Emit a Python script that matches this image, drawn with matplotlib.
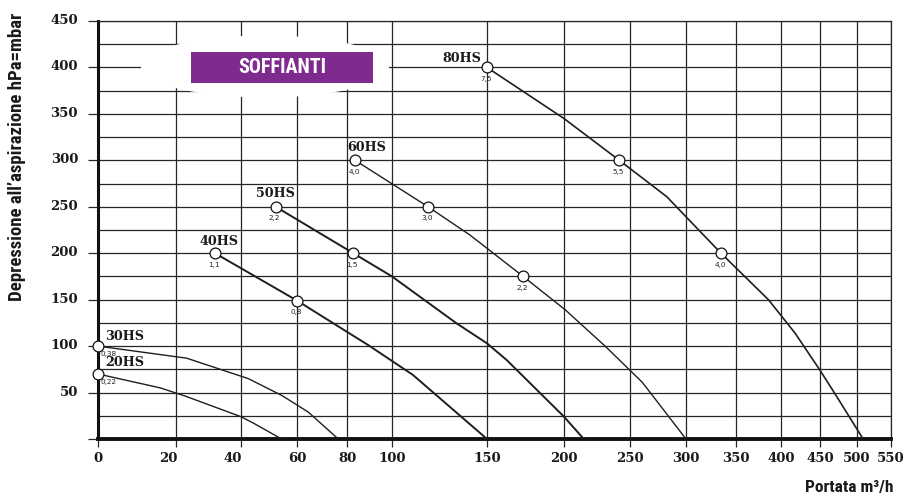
import numpy as np
import matplotlib
matplotlib.use("Agg")
import matplotlib.pyplot as plt
from matplotlib import font_manager
from matplotlib.patches import Ellipse, Rectangle
from matplotlib.transforms import ScaledTranslation

# ---------------- data ----------------
x_ticks = [0, 20, 40, 60, 80, 100, 150, 200, 250, 300, 350, 400, 450, 500, 550]
y_ticks = [0, 50, 100, 150, 200, 250, 300, 350, 400, 450]

names = ["20HS", "30HS", "40HS", "50HS", "60HS", "80HS"]

x_20 = [0, 16, 23, 40, 44.5, 54.5]
y_20 = [70, 55, 46, 24, 17, 0]
x_30 = [0, 23.3, 42.6, 54.5, 64.5, 76.5]
y_30 = [100, 87, 65, 47, 29, 0]
x_40 = [32, 60, 89.5, 111, 150]
y_40 = [200, 149, 101, 69, 0]
x_50 = [52.4, 82.8, 100, 134, 150, 162.8, 200, 215]
y_50 = [250, 200, 175, 124.5, 103, 85, 24, 0]
x_60 = [83.6, 119, 141, 173.5, 201, 231.6, 261, 300]
y_60 = [300, 250, 219.6, 175, 139, 99.4, 61, 0]
x_80 = [150, 200, 241.9, 282.7, 335, 386, 418, 450, 470, 509]
y_80 = [400, 345, 300, 261, 200, 150, 114, 74, 49, 0]

# marker indices and power labels (kW)
mk_20 = [0]; pw_20 = ["0,22"]
mk_30 = [0]; pw_30 = ["0,38"]
mk_40 = [0, 1]; pw_40 = ["1,1", "0,8"]
mk_50 = [0, 1]; pw_50 = ["2,2", "1,5"]
mk_60 = [0, 1, 3]; pw_60 = ["4,0", "3,0", "2,2"]
mk_80 = [0, 2, 4]; pw_80 = ["7,5", "5,5", "4,0"]

title_box = "SOFFIANTI"
y_label = "Depressione all\u2019aspirazione hPa=mbar"
x_label = "Portata m\u00b3/h"

# ---------------- fonts ----------------
avail = {f.name for f in font_manager.fontManager.ttflist}
cond = "Liberation Sans Narrow" if "Liberation Sans Narrow" in avail else (
    "Roboto Condensed" if "Roboto Condensed" in avail else "Roboto")
serif = "DejaVu Serif"

# ---------------- layout ----------------
W, H = 905, 494
fig = plt.figure(figsize=(W / 100, H / 100), dpi=100)
L, R, T, B = 98, 891, 21, 439
ax = fig.add_axes([L / W, 1 - B / H, (R - L) / W, (B - T) / H])

# non-linear x scale: grid values at fixed pixel positions of the chart
grid_px = np.array([0, 78, 143, 199, 249, 294, 389, 466, 532, 588, 638, 683, 722, 759, 793], float)
grid_val = np.array(x_ticks, float)

def fwd(v):
    return np.interp(v, grid_val, grid_px)

def inv(p):
    return np.interp(p, grid_px, grid_val)

ax.set_xscale("function", functions=(fwd, inv))
ax.set_xlim(0, 550)
ax.set_ylim(0, 450)

gcol = "#262626"
ax.set_axisbelow(True)
ax.set_xticks(x_ticks)
ax.set_xticklabels([str(v) for v in x_ticks])
ax.set_yticks(y_ticks)
ax.set_yticklabels([""] + [str(v) for v in y_ticks[1:]])
ax.set_yticks([v + 25 for v in y_ticks[:-1]], minor=True)
ax.xaxis.set_minor_locator(matplotlib.ticker.NullLocator())
ax.grid(True, which="both", color=gcol, lw=0.9)
ax.tick_params(axis="x", which="major", direction="out", length=6, width=0.9,
               color=gcol, pad=3.5, labelsize=9.5)
ax.tick_params(axis="y", which="major", direction="out", length=7.2, width=0.9,
               color=gcol, pad=7.2, labelsize=9.5)
ax.tick_params(axis="y", which="minor", length=0)
for lab in ax.get_xticklabels() + ax.get_yticklabels():
    lab.set_fontfamily(serif)
    lab.set_fontweight("bold")
    lab.set_color("#1a1a1a")
# small left shift of the 20 / 40 labels as in the original
for lab in ax.get_xticklabels():
    if lab.get_text() in ("20", "40"):
        lab.set_transform(lab.get_transform() + ScaledTranslation(-8 / 100, 0, fig.dpi_scale_trans))
for lab in ax.get_yticklabels():
    lab.set_transform(lab.get_transform() + ScaledTranslation(0, 2 / 100, fig.dpi_scale_trans))

for s in ("top", "right"):
    ax.spines[s].set_linewidth(0.9)
    ax.spines[s].set_color(gcol)
ax.spines["left"].set_linewidth(2.2)
ax.spines["left"].set_color("#111111")
ax.spines["bottom"].set_linewidth(2.8)
ax.spines["bottom"].set_color("#111111")

# white glow and title box
ell = Ellipse((265 / W, 1 - 66.5 / H), 248 / W, 62 / H, transform=fig.transFigure,
              facecolor="white", edgecolor="none", zorder=1, clip_on=False)
ax.add_patch(ell)
rect = Rectangle((191 / W, 1 - 83 / H), 182 / W, 31 / H, transform=fig.transFigure,
                 facecolor="#7f2a8e", edgecolor="none", zorder=1.2, clip_on=False)
ax.add_patch(rect)
ax.text(282 / W, 1 - 67.5 / H, title_box, transform=fig.transFigure, ha="center", va="center",
        color="white", fontsize=14.5, fontweight="bold", family=cond, zorder=1.4)

series = [
    (x_20, y_20, mk_20, pw_20, 1.0, (27, 11), "left"),
    (x_30, y_30, mk_30, pw_30, 1.0, (27, 10), "left"),
    (x_40, y_40, mk_40, pw_40, 1.4, (4, 12), "center"),
    (x_50, y_50, mk_50, pw_50, 1.4, (0, 13), "center"),
    (x_60, y_60, mk_60, pw_60, 1.0, (12, 13), "center"),
    (x_80, y_80, mk_80, pw_80, 1.2, (-25, 9), "center"),
]

for name, (xs, ys, mk, pw, lw, loff, pwalign) in zip(names, series):
    ax.plot(xs, ys, color="#1e1e1e", lw=lw, zorder=3, solid_joinstyle="miter")
    mx = [xs[i] for i in mk]
    my = [ys[i] for i in mk]
    ax.plot(mx, my, "o", ms=7.8, mfc="white", mec="#111111", mew=0.9, zorder=4, clip_on=False)
    for xv, yv, t in zip(mx, my, pw):
        if pwalign == "left":
            ax.annotate(t, (xv, yv), xytext=(2, -8), textcoords="offset pixels",
                        ha="left", va="center", fontsize=5.2, color="#222222", zorder=5)
        else:
            ax.annotate(t, (xv, yv), xytext=(-1, -11.5), textcoords="offset pixels",
                        ha="center", va="center", fontsize=5.2, color="#222222", zorder=5)
    ax.annotate(name, (xs[0], ys[0]), xytext=(loff[0], loff[1]), textcoords="offset pixels",
                ha="center", va="center", fontsize=9.2, fontweight="bold", family=serif,
                color="#1a1a1a", zorder=5)

fig.text(17.5 / W, 1 - 157 / H, y_label, rotation=90, ha="center", va="center",
         fontsize=13.5, fontweight="bold", family=cond, color="#1a1a1a")
fig.text(893 / W, 1 - 487 / H, x_label, ha="right", va="center",
         fontsize=12.5, fontweight="bold", family=cond, color="#1a1a1a")

fig.savefig("out.png", dpi=100, facecolor="white")
